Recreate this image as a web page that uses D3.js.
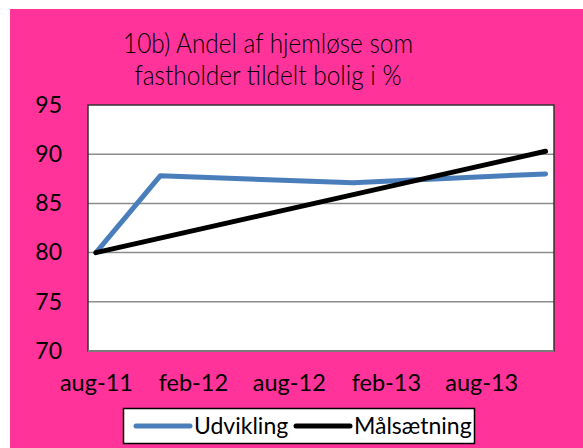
<!DOCTYPE html>
<html>
<head>
<meta charset="utf-8">
<script src="https://cdn.jsdelivr.net/npm/d3@7"></script>
<style>
  body { margin: 0; background: #fff; }
  svg { display: block; }
</style>
</head>
<body>
<script>
// data
var titleLines = ["10b) Andel af hjemløse som", "fastholder tildelt bolig i %"];
var udvDates = ["2011-08", "2011-12", "2012-12", "2013-12"];
var udvValues = [80, 87.8, 87.1, 88.0];
var maalDates = ["2011-08", "2013-12"];
var maalValues = [80, 90.3];
var xTickLabels = ["aug-11", "feb-12", "aug-12", "feb-13", "aug-13"];
var yTicks = [70, 75, 80, 85, 90, 95];
var seriesNames = ["Udvikling", "Målsætning"];

var W = 583, H = 448;
var plot = {left: 88, right: 554, top: 105, bottom: 351};
var labelFont = "Lato, 'Liberation Sans', sans-serif";

var svg = d3.select("body").append("svg")
    .attr("width", W)
    .attr("height", H);

// pink chart area
svg.append("rect")
    .attr("x", 10).attr("y", 9)
    .attr("width", W - 10).attr("height", H - 9)
    .attr("fill", "#ff3399");

var parseMonth = d3.timeParse("%Y-%m");
var monDa = {jan: 0, feb: 1, mar: 2, apr: 3, maj: 4, jun: 5, jul: 6, aug: 7, sep: 8, okt: 9, nov: 10, dec: 11};
function midMonth(d) { return new Date(d.getFullYear(), d.getMonth(), 16); }
function labelDate(s) {
    var p = s.split("-");
    return new Date(2000 + (+p[1]), monDa[p[0]], 16);
}

var x = d3.scaleTime()
    .domain([new Date(2011, 7, 1), new Date(2014, 0, 1)])
    .range([plot.left, plot.right]);

var y = d3.scaleLinear()
    .domain([70, 95])
    .range([plot.bottom, plot.top]);

// plot background
svg.append("rect")
    .attr("x", plot.left).attr("y", plot.top)
    .attr("width", plot.right - plot.left)
    .attr("height", plot.bottom - plot.top)
    .attr("fill", "#fff");

// gridlines
svg.append("g")
    .selectAll("line")
    .data(yTicks.filter(function(d) { return d > 70 && d < 95; }))
    .enter().append("line")
    .attr("x1", plot.left).attr("x2", plot.right)
    .attr("y1", function(d) { return y(d); })
    .attr("y2", function(d) { return y(d); })
    .attr("stroke", "#8c8c8c")
    .attr("stroke-width", 1.5);

// plot border
svg.append("rect")
    .attr("x", plot.left).attr("y", plot.top)
    .attr("width", plot.right - plot.left)
    .attr("height", plot.bottom - plot.top)
    .attr("fill", "none")
    .attr("stroke", "#333")
    .attr("stroke-width", 1.5);
svg.append("line")
    .attr("x1", plot.left).attr("x2", plot.right)
    .attr("y1", y(70)).attr("y2", y(70))
    .attr("stroke", "#7a7a7a")
    .attr("stroke-width", 2);

// y axis labels
var yAxis = d3.axisLeft(y).tickValues(yTicks).tickSize(0).tickPadding(26);
var gy = svg.append("g")
    .attr("transform", "translate(" + plot.left + ",0)")
    .call(yAxis);
gy.select(".domain").remove();
gy.selectAll("text")
    .attr("font-family", labelFont)
    .attr("font-size", 23)
    .attr("fill", "#000");

// x axis labels
var xAxis = d3.axisBottom(x)
    .tickValues(xTickLabels.map(labelDate))
    .tickFormat(function(d, i) { return xTickLabels[i]; })
    .tickSize(0).tickPadding(23);
var gx = svg.append("g")
    .attr("transform", "translate(0," + plot.bottom + ")")
    .call(xAxis);
gx.select(".domain").remove();
gx.selectAll("text")
    .attr("font-family", labelFont)
    .attr("font-size", 23.5)
    .attr("fill", "#000");

// lines
var line = d3.line()
    .x(function(d) { return x(midMonth(parseMonth(d[0]))); })
    .y(function(d) { return y(d[1]); });

svg.append("path")
    .datum(d3.zip(udvDates, udvValues))
    .attr("d", line)
    .attr("fill", "none")
    .attr("stroke", "#4a7ebb")
    .attr("stroke-width", 5)
    .attr("stroke-linecap", "round")
    .attr("stroke-linejoin", "round");

svg.append("path")
    .datum(d3.zip(maalDates, maalValues))
    .attr("d", line)
    .attr("fill", "none")
    .attr("stroke", "#000")
    .attr("stroke-width", 5)
    .attr("stroke-linecap", "round");

// title (narrow Gill Sans look squeezed from Lato Light)
var titleWidths = [290, 267];
svg.append("g").selectAll("text")
    .data(titleLines)
    .enter().append("text")
    .attr("x", 268)
    .attr("y", function(d, i) { return 53 + i * 32; })
    .attr("text-anchor", "middle")
    .attr("font-family", "Lato, 'Open Sans', sans-serif")
    .attr("font-weight", 300)
    .attr("font-size", 27.5)
    .attr("textLength", function(d, i) { return titleWidths[i]; })
    .attr("lengthAdjust", "spacingAndGlyphs")
    .attr("fill", "#000")
    .text(function(d) { return d; });

// legend
var legend = svg.append("g");
legend.append("rect")
    .attr("x", 123.5).attr("y", 408.5)
    .attr("width", 351).attr("height", 35)
    .attr("fill", "#fff")
    .attr("stroke", "#000")
    .attr("stroke-width", 1.5);
var legColors = ["#4a7ebb", "#000"];
var legX = [136, 296];
seriesNames.forEach(function(name, i) {
    legend.append("line")
        .attr("x1", legX[i]).attr("x2", legX[i] + 54)
        .attr("y1", 426).attr("y2", 426)
        .attr("stroke", legColors[i])
        .attr("stroke-width", 5)
        .attr("stroke-linecap", "round");
    legend.append("text")
        .attr("x", legX[i] + 58)
        .attr("y", 434)
        .attr("font-family", labelFont)
        .attr("font-size", 23)
        .attr("fill", "#000")
        .text(name);
});
</script>
</body>
</html>
